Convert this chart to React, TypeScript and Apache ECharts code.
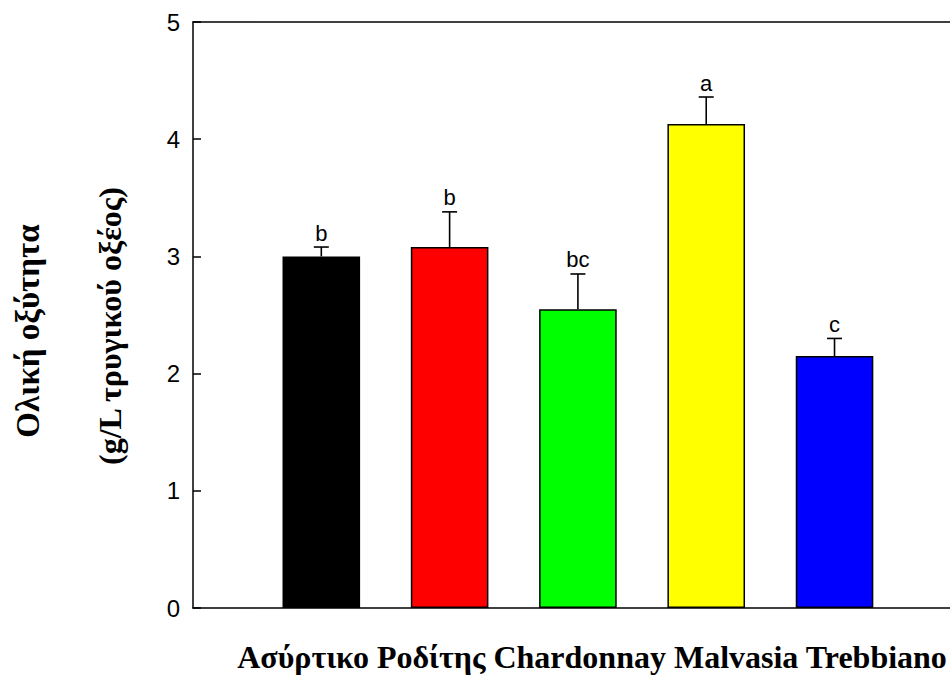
import React, { useEffect, useRef } from "react";
import * as echarts from "echarts";

const varieties = ["Ασύρτικο", "Ροδίτης", "Chardonnay", "Malvasia", "Trebbiano"];
const means = [3.0, 3.08, 2.55, 4.13, 2.15];
const errors = [0.08, 0.3, 0.3, 0.23, 0.15];
const groups = ["b", "b", "bc", "a", "c"];
const barColors = ["#000000", "#ff0000", "#00ff00", "#ffff00", "#0000ff"];
const yTicks = [0, 1, 2, 3, 4, 5];

const SERIF = "'Liberation Serif', 'Times New Roman', serif";
const SANS = "'Liberation Sans', Arial, sans-serif";

export default function App() {
  const ref = useRef<HTMLDivElement>(null);

  useEffect(() => {
    if (!ref.current) return;
    const chart = echarts.init(ref.current, null, { renderer: "svg" });

    const barData = means.map((v, i) => ({
      value: [i + 1, v],
      itemStyle: { color: barColors[i] },
    }));
    const errData = means.map((v, i) => [i + 1, v, v + errors[i], i]);

    const frameLine = { show: true, lineStyle: { color: "#000", width: 1.5 } };

    chart.setOption({
      animation: false,
      backgroundColor: "#ffffff",
      grid: { left: 193, top: 22, right: 0, bottom: 67 },
      xAxis: [
        {
          type: "value",
          position: "bottom",
          min: 0,
          max: 5.9,
          axisLine: frameLine,
          axisTick: { show: false },
          axisLabel: { show: false },
          splitLine: { show: false },
        },
        {
          type: "value",
          position: "top",
          min: 0,
          max: 5.9,
          axisLine: frameLine,
          axisTick: { show: false },
          axisLabel: { show: false },
          splitLine: { show: false },
        },
      ],
      yAxis: {
        type: "value",
        min: yTicks[0],
        max: yTicks[yTicks.length - 1],
        interval: 1,
        axisLine: frameLine,
        axisTick: { show: true, inside: true, length: 8, lineStyle: { color: "#000", width: 1.5 } },
        axisLabel: { color: "#000", fontFamily: SANS, fontSize: 24, margin: 13 },
        splitLine: { show: false },
      },
      series: [
        {
          type: "bar",
          data: barData,
          barWidth: 77.6,
          itemStyle: { borderColor: "#000", borderWidth: 1.5 },
        },
        {
          type: "custom",
          data: errData,
          renderItem: (params: any, api: any) => {
            const x = api.value(0);
            const top = api.coord([x, api.value(1)]);
            const hi = api.coord([x, api.value(2)]);
            const idx = api.value(3);
            const cap = 7.5;
            const line = { stroke: "#000", lineWidth: 1.6 };
            return {
              type: "group",
              children: [
                { type: "line", shape: { x1: top[0], y1: top[1], x2: hi[0], y2: hi[1] }, style: line },
                { type: "line", shape: { x1: hi[0] - cap, y1: hi[1], x2: hi[0] + cap, y2: hi[1] }, style: line },
                {
                  type: "text",
                  x: hi[0],
                  y: hi[1] - 3,
                  style: {
                    text: groups[idx],
                    fill: "#000",
                    font: `22px ${SANS}`,
                    textAlign: "center",
                    textVerticalAlign: "bottom",
                  },
                },
              ],
            };
          },
          z: 3,
        },
      ],
      graphic: [
        {
          type: "text",
          x: 28,
          y: 331,
          rotation: Math.PI / 2,
          style: {
            text: "Ολική οξύτητα",
            fill: "#000",
            font: `bold 33px ${SERIF}`,
            textAlign: "center",
            textVerticalAlign: "middle",
          },
        },
        {
          type: "text",
          x: 110,
          y: 326,
          rotation: Math.PI / 2,
          style: {
            text: "(g/L τρυγικού οξέος)",
            fill: "#000",
            font: `bold 32px ${SERIF}`,
            textAlign: "center",
            textVerticalAlign: "middle",
          },
        },
        {
          type: "text",
          x: 592,
          y: 657,
          style: {
            text: varieties.join(" "),
            fill: "#000",
            font: `bold 32px ${SERIF}`,
            textAlign: "center",
            textVerticalAlign: "middle",
          },
        },
      ],
    });

    return () => chart.dispose();
  }, []);

  return <div ref={ref} style={{ width: 950, height: 675, position: "absolute", left: 0, top: 0 }} />;
}
